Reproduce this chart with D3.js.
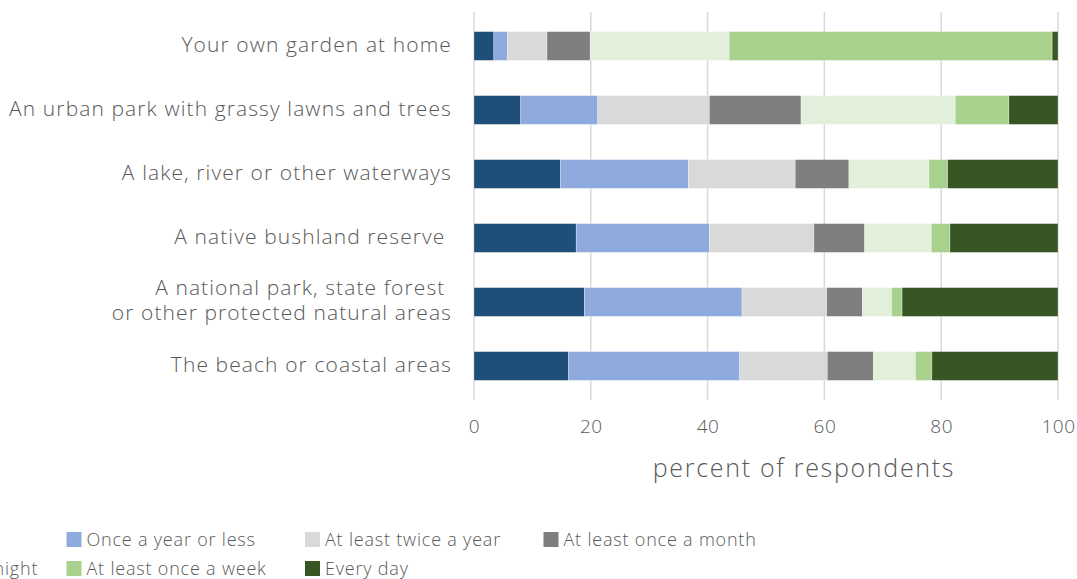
<!DOCTYPE html>
<html>
<head>
<meta charset="utf-8">
<script src="https://cdn.jsdelivr.net/npm/d3@7"></script>
<style>
  html, body { margin: 0; padding: 0; background: #ffffff; }
  svg { display: block; }
  text { font-family: "Open Sans", Lato, sans-serif; font-weight: 300; fill: #595959; }
</style>
</head>
<body>
<svg id="chart" width="1077" height="579"></svg>
<script>
// Places visited, top to bottom
const categories = [
  "Your own garden at home",
  "An urban park with grassy lawns and trees",
  "A lake, river or other waterways",
  "A native bushland reserve ",
  "A national park, state forest \nor other protected natural areas",
  "The beach or coastal areas"
];

// Frequency groups, in stacking order
const frequencies = [
  "Never",
  "Once a year or less",
  "At least twice a year",
  "At least once a month",
  "At least once a fortnight",
  "At least once a week",
  "Every day"
];

// Percent of respondents per frequency, one entry per place
const never       = [3.4,  8.0, 14.8, 17.5, 18.9, 16.2];
const onceAYear   = [2.3, 13.2, 21.9, 22.8, 27.0, 29.3];
const twiceAYear  = [6.8, 19.1, 18.3, 17.9, 14.5, 15.0];
const onceAMonth  = [7.4, 15.7,  9.2,  8.7,  6.1,  7.9];
const fortnightly = [23.8, 26.4, 13.7, 11.4,  5.0,  7.2];
const weekly      = [55.3,  9.2,  3.2,  3.2,  1.8,  2.8];
const everyDay    = [1.0,  8.4, 18.9, 18.5, 26.7, 21.6];

const xTicks = [0, 20, 40, 60, 80, 100];
const colors = ["#1f4e79", "#8faadc", "#d9d9d9", "#7f7f7f", "#e2efda", "#a9d18e", "#375623"];

const seriesValues = [never, onceAYear, twiceAYear, onceAMonth, fortnightly, weekly, everyDay];
const rows = categories.map((c, i) => {
  const r = { category: c };
  frequencies.forEach((f, j) => { r[f] = seriesValues[j][i]; });
  return r;
});

const svg = d3.select("#chart");
const plot = { left: 474, right: 1058, top: 14, bottom: 398 };

const x = d3.scaleLinear().domain([0, 100]).range([plot.left, plot.right]);
const y = d3.scaleBand().domain(categories).range([plot.top, plot.bottom]).paddingInner(0.55).paddingOuter(0.275);
const color = d3.scaleOrdinal().domain(frequencies).range(colors);

// Vertical gridlines
svg.append("g")
  .selectAll("line")
  .data(xTicks)
  .join("line")
  .attr("x1", d => x(d)).attr("x2", d => x(d))
  .attr("y1", plot.top - 2).attr("y2", plot.bottom + 2)
  .attr("stroke", "#d9d9d9").attr("stroke-width", 1.5);

// Stacked bars
const stacked = d3.stack().keys(frequencies)(rows);
svg.append("g")
  .selectAll("g")
  .data(stacked)
  .join("g")
  .attr("fill", d => color(d.key))
  .selectAll("rect")
  .data(d => d)
  .join("rect")
  .attr("x", d => x(d[0]))
  .attr("y", d => y(d.data.category))
  .attr("width", d => x(d[1]) - x(d[0]))
  .attr("height", y.bandwidth())
  .attr("stroke", "#ffffff").attr("stroke-width", 0.6).attr("stroke-opacity", 0.5);

// X axis tick labels
const xAxis = svg.append("g")
  .attr("transform", `translate(0,${plot.bottom})`)
  .call(d3.axisBottom(x).tickValues(xTicks).tickSize(0).tickPadding(22));
xAxis.select(".domain").remove();
xAxis.selectAll("text")
  .style("font-size", "19px")
  .style("font-family", "'Open Sans', sans-serif")
  .style("font-weight", 300)
  .style("letter-spacing", "0.5px")
  .attr("fill", "#595959");

// Axis title
svg.append("text")
  .attr("x", 804)
  .attr("y", 477)
  .attr("text-anchor", "middle")
  .style("font-size", "25px")
  .style("letter-spacing", "1.7px")
  .text("percent of respondents");

// Category labels
const yAxis = svg.append("g")
  .attr("transform", `translate(${plot.left - 22},0)`);
categories.forEach(c => {
  const lines = c.split("\n");
  const cy = y(c) + y.bandwidth() / 2 - 1.5;
  const t = yAxis.append("text")
    .attr("text-anchor", "end")
    .attr("y", cy)
    .style("font-size", "21px")
    .style("letter-spacing", "1.1px")
    .style("white-space", "pre")
    .attr("xml:space", "preserve");
  lines.forEach((ln, i) => {
    t.append("tspan")
      .attr("x", 0)
      .attr("y", cy + (i - (lines.length - 1) / 2) * 25)
      .attr("dy", "0.35em")
      .text(ln);
  });
});

// Legend: four columns, two rows; the first column is wider
const legend = svg.append("g").attr("transform", "translate(-172,532)");
const colX = [-22, 238.5, 477, 715.5];
frequencies.forEach((f, i) => {
  const col = i % 4, row = Math.floor(i / 4);
  const g = legend.append("g").attr("transform", `translate(${colX[col]},${row * 29})`);
  g.append("rect").attr("width", 15).attr("height", 15).attr("fill", color(f));
  g.append("text").attr("x", 20).attr("y", 8).attr("dy", "0.35em")
    .style("font-size", "18px").style("letter-spacing", "0.8px").text(f);
});
</script>
</body>
</html>
